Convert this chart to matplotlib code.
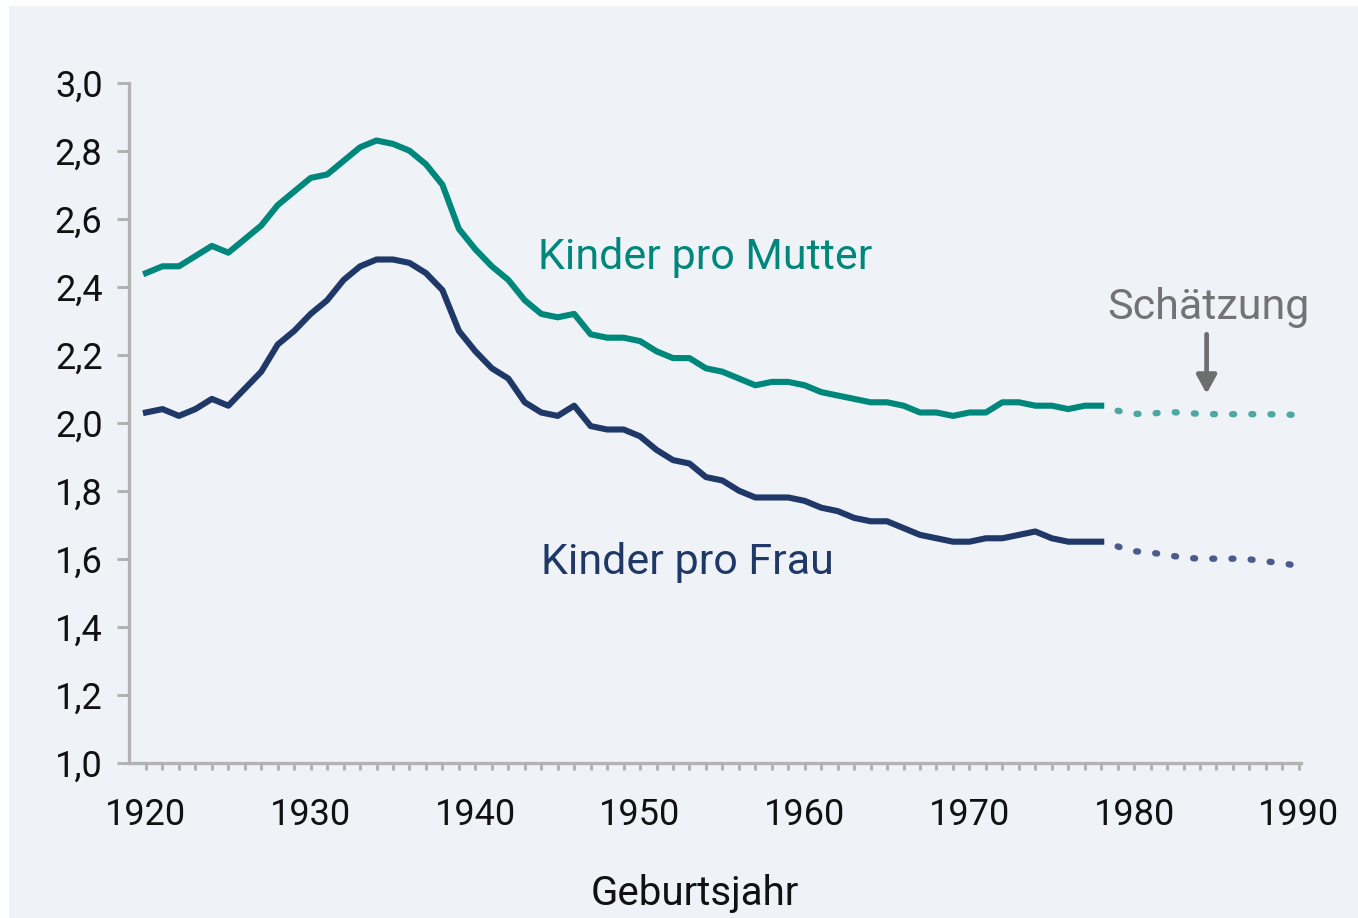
import matplotlib
matplotlib.use("Agg")
import matplotlib.pyplot as plt
from matplotlib.patches import Rectangle

# Kohortenfertilität nach Geburtsjahr (gemessen 1920-1978, Schätzung 1978-1990)
years = list(range(1920, 1979))
kinder_pro_mutter = [
    2.44, 2.46, 2.46, 2.49, 2.52, 2.50, 2.54, 2.58, 2.64, 2.68,
    2.72, 2.73, 2.77, 2.81, 2.83, 2.82, 2.80, 2.76, 2.70, 2.57,
    2.51, 2.46, 2.42, 2.36, 2.32, 2.31, 2.32, 2.26, 2.25, 2.25,
    2.24, 2.21, 2.19, 2.19, 2.16, 2.15, 2.13, 2.11, 2.12, 2.12,
    2.11, 2.09, 2.08, 2.07, 2.06, 2.06, 2.05, 2.03, 2.03, 2.02,
    2.03, 2.03, 2.06, 2.06, 2.05, 2.05, 2.04, 2.05, 2.05,
]
kinder_pro_frau = [
    2.03, 2.04, 2.02, 2.04, 2.07, 2.05, 2.10, 2.15, 2.23, 2.27,
    2.32, 2.36, 2.42, 2.46, 2.48, 2.48, 2.47, 2.44, 2.39, 2.27,
    2.21, 2.16, 2.13, 2.06, 2.03, 2.02, 2.05, 1.99, 1.98, 1.98,
    1.96, 1.92, 1.89, 1.88, 1.84, 1.83, 1.80, 1.78, 1.78, 1.78,
    1.77, 1.75, 1.74, 1.72, 1.71, 1.71, 1.69, 1.67, 1.66, 1.65,
    1.65, 1.66, 1.66, 1.67, 1.68, 1.66, 1.65, 1.65, 1.65,
]

est_years = list(range(1978, 1991))
est_mutter = [2.05, 2.035, 2.026, 2.026, 2.032, 2.029, 2.026, 2.025,
              2.025, 2.025, 2.025, 2.024, 2.023]
est_frau = [1.65, 1.636, 1.622, 1.618, 1.611, 1.603, 1.600, 1.600,
            1.600, 1.598, 1.592, 1.587, 1.578]

x_ticks = list(range(1920, 1991, 10))
y_ticks = [1.0, 1.2, 1.4, 1.6, 1.8, 2.0, 2.2, 2.4, 2.6, 2.8, 3.0]
y_labels = [f"{v:.1f}".replace(".", ",") for v in y_ticks]

TEAL = "#00877b"
NAVY = "#1f3868"
TEAL_EST = "#4da89f"
NAVY_EST = "#4c5b8c"
GREY_AXIS = "#b3b3b3"
BG = "#eff3f8"
FONT = ["Liberation Sans Narrow", "Roboto", "DejaVu Sans"]

plt.rcParams["font.family"] = FONT

fig = plt.figure(figsize=(13.58, 9.18), dpi=100)
fig.patch.set_facecolor("white")
fig.patches.append(Rectangle((9 / 1358, 0), 1 - 9 / 1358, 1 - 6 / 918,
                             transform=fig.transFigure, facecolor=BG,
                             edgecolor="none", zorder=-10))

ax = fig.add_axes([0.095, 0.1692, 0.863, 0.7407])
ax.set_facecolor(BG)
ax.patch.set_alpha(0)

ax.plot(years, kinder_pro_mutter, color=TEAL, lw=4.4, solid_joinstyle="round")
ax.plot(years, kinder_pro_frau, color=NAVY, lw=4.4, solid_joinstyle="round")
ax.plot(est_years[1:], est_mutter[1:], color=TEAL_EST, lw=4.6,
        linestyle=(0, (0.3, 2.7)), dash_capstyle="round")
ax.plot(est_years[1:], est_frau[1:], color=NAVY_EST, lw=4.6,
        linestyle=(0, (0.3, 2.7)), dash_capstyle="round")

ax.set_xlim(1918.97, 1990.13)
ax.set_ylim(1.0, 3.0)

for side in ["top", "right"]:
    ax.spines[side].set_visible(False)
for side in ["left", "bottom"]:
    ax.spines[side].set_color(GREY_AXIS)
    ax.spines[side].set_linewidth(2.4)

ax.set_xticks(x_ticks)
ax.set_xticks(range(1920, 1991), minor=True)
ax.set_xticklabels([str(x) for x in x_ticks])
ax.set_yticks(y_ticks)
ax.set_yticklabels(y_labels)

ax.tick_params(axis="x", which="both", length=5, width=2.2, color=GREY_AXIS,
               labelsize=26, pad=20, labelcolor="#111111")
ax.tick_params(axis="y", length=9, width=2.2, color=GREY_AXIS,
               labelsize=26, pad=10, labelcolor="#111111")

ax.set_xlabel("Geburtsjahr", fontsize=29, color="#111111")
ax.xaxis.set_label_coords(0.483, -0.163)

ax.text(1943.8, 2.485, "Kinder pro Mutter", color=TEAL, fontsize=31,
        ha="left", va="center")
ax.text(1944.0, 1.59, "Kinder pro Frau", color=NAVY, fontsize=31,
        ha="left", va="center")
ax.text(1984.5, 2.34, "Schätzung", color="#737373", fontsize=31,
        ha="center", va="center")
ax.annotate("", xy=(1984.4, 2.085), xytext=(1984.4, 2.26),
            arrowprops=dict(arrowstyle="-|>,head_width=0.6,head_length=1.1",
                            color="#6e6e6e", lw=3.4, shrinkA=0, shrinkB=0))

fig.savefig("out.png", dpi=100, facecolor=fig.get_facecolor())
